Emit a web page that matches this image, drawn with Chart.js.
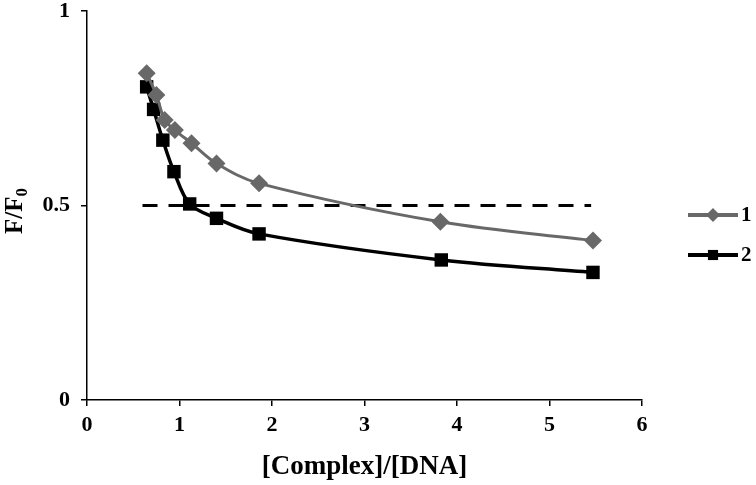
<!DOCTYPE html>
<html>
<head>
<meta charset="utf-8">
<script src="https://cdn.jsdelivr.net/npm/chart.js@4/dist/chart.umd.min.js"></script>
<style>
html,body{margin:0;padding:0;background:#fff;}
#wrap{width:756px;height:485px;position:relative;}
</style>
</head>
<body>
<div id="wrap"><canvas id="c" width="756" height="485"></canvas></div>
<script>
// Data
const seriesNames = ["1", "2"];
const ratio1 = [0.645, 0.75, 0.84, 0.95, 1.13, 1.40, 1.86, 3.82, 5.47];
const values1 = [0.840, 0.784, 0.720, 0.694, 0.660, 0.608, 0.557, 0.458, 0.410];
const ratio2 = [0.645, 0.72, 0.82, 0.94, 1.11, 1.40, 1.86, 3.83, 5.47];
const values2 = [0.805, 0.747, 0.668, 0.587, 0.504, 0.467, 0.427, 0.360, 0.328];
const halfLineX = [0.6, 5.45];
const halfLineY = [0.5, 0.5];
const xTicks = [0, 1, 2, 3, 4, 5, 6];
const yTicks = [0, 0.5, 1];

const FONT = "'Liberation Serif', 'Times New Roman', serif";
const GRAY = "#686868";

const toPts = (xs, ys) => xs.map((x, i) => ({x: x, y: ys[i]}));

const legendPlugin = {
  id: 'sideLegend',
  afterDraw(chart) {
    const ctx = chart.ctx;
    const items = [chart.data.datasets[0], chart.data.datasets[1]];
    const x0 = 688, x1 = 738, ys = [215, 255];
    items.forEach((ds, i) => {
      const y = ys[i];
      ctx.save();
      ctx.strokeStyle = ds.borderColor;
      ctx.lineWidth = 4;
      ctx.beginPath(); ctx.moveTo(x0, y); ctx.lineTo(x1, y); ctx.stroke();
      ctx.fillStyle = ds.pointBackgroundColor;
      Chart.helpers.drawPoint(ctx, {pointStyle: ds.pointStyle, radius: ds.pointRadius * 0.75, borderWidth: 0, rotation: 0}, (x0 + x1) / 2, y);
      ctx.fill();
      ctx.fillStyle = '#000';
      ctx.font = "bold 21px " + FONT;
      ctx.textBaseline = 'middle';
      ctx.textAlign = 'left';
      ctx.fillText(ds.label, x1 + 3, y + 1);
      ctx.restore();
    });
  }
};

const yTitlePlugin = {
  id: 'yTitleSub',
  afterDraw(chart) {
    const ctx = chart.ctx;
    ctx.save();
    ctx.translate(15, 211);
    ctx.rotate(-Math.PI / 2);
    ctx.fillStyle = '#000';
    ctx.textBaseline = 'alphabetic';
    ctx.font = "bold 25px " + FONT;
    const main = "F/F";
    const wMain = ctx.measureText(main).width;
    ctx.font = "bold 17px " + FONT;
    const wSub = ctx.measureText("0").width;
    const total = wMain + wSub;
    ctx.font = "bold 25px " + FONT;
    ctx.fillText(main, -total / 2, 7);
    ctx.font = "bold 17px " + FONT;
    ctx.fillText("0", -total / 2 + wMain, 12);
    ctx.restore();
  }
};

new Chart(document.getElementById('c'), {
  type: 'line',
  data: {
    datasets: [
      {
        label: seriesNames[0],
        data: toPts(ratio1, values1),
        borderColor: GRAY,
        backgroundColor: GRAY,
        pointBackgroundColor: GRAY,
        pointBorderColor: GRAY,
        borderWidth: 3,
        pointStyle: 'rectRot',
        pointRadius: 9,
        pointBorderWidth: 0,
        tension: 0.35,
        fill: false
      },
      {
        label: seriesNames[1],
        data: toPts(ratio2, values2),
        borderColor: '#000',
        backgroundColor: '#000',
        pointBackgroundColor: '#000',
        pointBorderColor: '#000',
        borderWidth: 3.5,
        pointStyle: 'rect',
        pointRadius: 9.5,
        pointBorderWidth: 0,
        tension: 0.35,
        fill: false
      },
      {
        label: 'half',
        data: toPts(halfLineX, halfLineY),
        borderColor: '#000',
        borderWidth: 3,
        borderDash: [15, 11],
        pointRadius: 0,
        tension: 0,
        fill: false
      }
    ]
  },
  options: {
    responsive: false,
    animation: false,
    events: [],
    layout: {padding: {left: 0, right: 114, top: 11, bottom: 0}},
    plugins: {legend: {display: false}, tooltip: {enabled: false}},
    scales: {
      x: {
        type: 'linear',
        min: 0, max: 6,
        afterBuildTicks: (s) => { s.ticks = xTicks.map(v => ({value: v})); },
        afterFit: (s) => { s.height = 85; s.paddingLeft = 0; s.paddingRight = 0; },
        grid: {display: true, drawOnChartArea: false, drawTicks: true, tickLength: 6, color: '#000', lineWidth: 1.5},
        border: {display: true, color: '#000', width: 1.5},
        ticks: {color: '#000', font: {family: FONT, size: 22, weight: 'bold'}, padding: 6, maxRotation: 0},
        title: {display: true, text: '[Complex]/[DNA]', color: '#000', font: {family: FONT, size: 27, weight: 'bold'}, padding: {top: 0, bottom: 2}}
      },
      y: {
        type: 'linear',
        min: 0, max: 1,
        afterBuildTicks: (s) => { s.ticks = yTicks.map(v => ({value: v})); },
        afterFit: (s) => { s.width = 87; s.paddingTop = 0; s.paddingBottom = 0; },
        grid: {display: true, drawOnChartArea: false, drawTicks: true, tickLength: 6, color: '#000', lineWidth: 1.5},
        border: {display: true, color: '#000', width: 1.5},
        ticks: {color: '#000', font: {family: FONT, size: 22, weight: 'bold'}, padding: 11,
                callback: (v) => String(v)}
      }
    }
  },
  plugins: [legendPlugin, yTitlePlugin]
});
</script>
</body>
</html>
